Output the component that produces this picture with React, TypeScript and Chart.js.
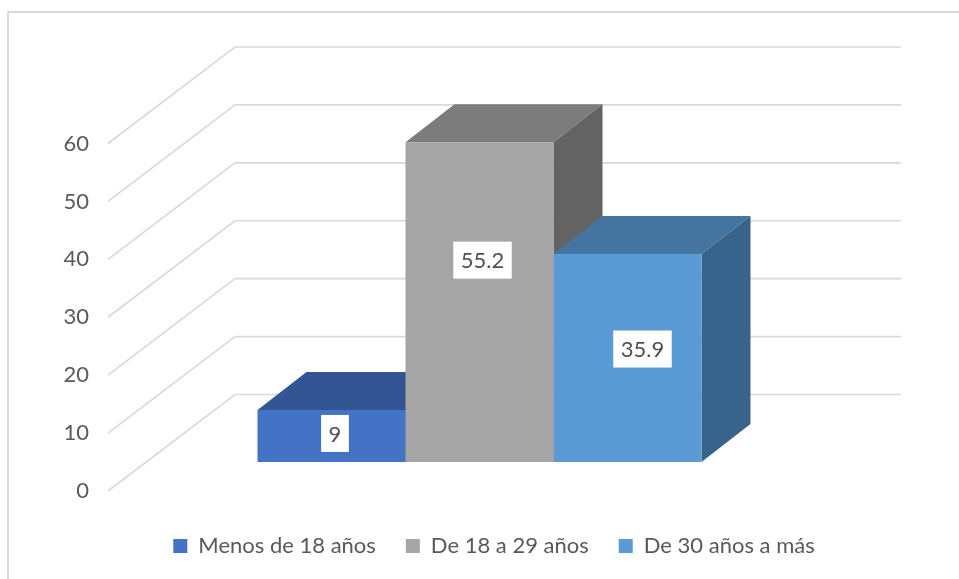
import React, { useEffect, useRef } from "react";
import { Chart, registerables } from "chart.js";

Chart.register(...registerables);

const categories = ["Edad"];
const seriesNames = ["Menos de 18 años", "De 18 a 29 años", "De 30 años a más"];
const menos18 = [9];
const de18a29 = [55.2];
const de30aMas = [35.9];
const yTickStep = 10;
const yMax = 60;

const FONT = "Lato, sans-serif";
const TEXT = "#595959";
const GRID = "#d9d9d9";
const frontColors = ["#4472C4", "#A5A5A5", "#5B9BD5"];
const topColors = ["#335593", "#7C7C7C", "#4475A0"];
const sideColors = ["#2A4675", "#636363", "#38638A"];
const labelShift = [
  { x: 3.5, y: -2.5 },
  { x: 3, y: -42 },
  { x: 15, y: -9 },
];

const WALL = { dx: 127, dy: 96.5 };
const BAR_SHIFT = { dx: 38.5, dy: 29 };
const BAR_DEPTH = { dx: 49, dy: 38 };

const polygon = (ctx: CanvasRenderingContext2D, pts: number[][], fill: string) => {
  ctx.beginPath();
  pts.forEach(([x, y], i) => (i ? ctx.lineTo(x, y) : ctx.moveTo(x, y)));
  ctx.closePath();
  ctx.fillStyle = fill;
  ctx.fill();
};

const bar3d = {
  id: "bar3d",
  afterLayout(chart: any) {
    const l = chart.legend;
    const shift = 494 - (l.left + l.right) / 2;
    l.left += shift;
    l.right += shift;
    l.top += 14;
    l.bottom += 14;
  },
  beforeDraw(chart: any) {
    const { ctx, width, height } = chart;
    ctx.save();
    ctx.strokeStyle = GRID;
    ctx.lineWidth = 2;
    ctx.beginPath();
    ctx.moveTo(8, height);
    ctx.lineTo(8, 12);
    ctx.lineTo(width, 12);
    ctx.stroke();
    ctx.restore();
  },
  beforeDatasetsDraw(chart: any) {
    const { ctx, chartArea, scales } = chart;
    ctx.save();
    ctx.strokeStyle = GRID;
    ctx.lineWidth = 1.6;
    scales.y.ticks.forEach((t: any) => {
      const y = scales.y.getPixelForValue(t.value);
      ctx.beginPath();
      ctx.moveTo(chartArea.left, y);
      ctx.lineTo(chartArea.left + WALL.dx, y - WALL.dy);
      ctx.lineTo(chartArea.right + WALL.dx, y - WALL.dy);
      ctx.stroke();
    });
    chart.data.datasets.forEach((_: any, i: number) => {
      const bar = chart.getDatasetMeta(i).data[0];
      const left = bar.x - bar.width / 2 + BAR_SHIFT.dx;
      const right = bar.x + bar.width / 2 + BAR_SHIFT.dx;
      const top = bar.y - BAR_SHIFT.dy;
      const base = bar.base - BAR_SHIFT.dy;
      polygon(ctx, [[left, top], [left + BAR_DEPTH.dx, top - BAR_DEPTH.dy], [right + BAR_DEPTH.dx, top - BAR_DEPTH.dy], [right, top]], topColors[i]);
      polygon(ctx, [[right, top], [right + BAR_DEPTH.dx, top - BAR_DEPTH.dy], [right + BAR_DEPTH.dx, base - BAR_DEPTH.dy], [right, base]], sideColors[i]);
    });
    ctx.restore();
    ctx.save();
    ctx.translate(BAR_SHIFT.dx, -BAR_SHIFT.dy);
  },
  afterDatasetsDraw(chart: any) {
    const { ctx } = chart;
    ctx.restore();
    ctx.save();
    ctx.font = `22px ${FONT}`;
    ctx.textAlign = "center";
    ctx.textBaseline = "middle";
    chart.data.datasets.forEach((ds: any, i: number) => {
      const bar = chart.getDatasetMeta(i).data[0];
      const cx = bar.x + BAR_SHIFT.dx + labelShift[i].x;
      const cy = (bar.y + bar.base) / 2 - BAR_SHIFT.dy + labelShift[i].y;
      const text = String(ds.data[0]);
      const w = ctx.measureText(text).width + 15;
      ctx.fillStyle = "#ffffff";
      ctx.fillRect(cx - w / 2, cy - 18.5, w, 37);
      ctx.fillStyle = "#505050";
      ctx.fillText(text, cx, cy + 1);
    });
    ctx.restore();
  },
};

export default function App() {
  const ref = useRef<HTMLCanvasElement>(null);
  useEffect(() => {
    const series = [menos18, de18a29, de30aMas];
    const chart = new Chart(ref.current!, {
      type: "bar",
      data: {
        labels: categories,
        datasets: seriesNames.map((label, i) => ({
          label,
          data: series[i],
          backgroundColor: frontColors[i],
          borderWidth: 0,
          categoryPercentage: 2 / 3,
          barPercentage: 1,
          clip: false,
        })),
      },
      options: {
        animation: false,
        responsive: false,
        layout: { padding: { left: 30, right: 185, top: 143.5, bottom: 26 } },
        plugins: {
          tooltip: { enabled: false },
          legend: {
            position: "bottom",
            labels: {
              boxWidth: 14,
              boxHeight: 14,
              padding: 30,
              color: TEXT,
              font: { family: FONT, size: 22 },
            },
          },
        },
        scales: {
          x: { display: false },
          y: {
            min: 0,
            max: yMax,
            grid: { display: false, drawTicks: false },
            border: { display: false },
            afterFit: (s: any) => {
              s.width = 78;
            },
            ticks: {
              stepSize: yTickStep,
              padding: 19,
              color: TEXT,
              font: { family: FONT, size: 22 },
            },
          },
        },
      },
      plugins: [bar3d],
    } as any);
    return () => chart.destroy();
  }, []);
  return (
    <div style={{ position: "fixed", left: 0, top: 0, width: 959, height: 579, background: "#fff", overflow: "hidden" }}>
      <canvas ref={ref} width={959} height={579} style={{ display: "block" }} />
    </div>
  );
}
